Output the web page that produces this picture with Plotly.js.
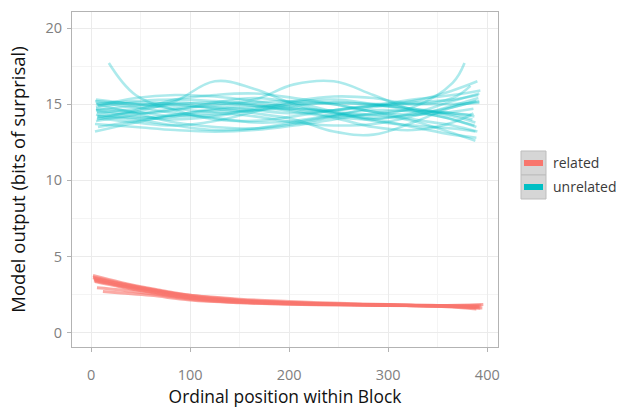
<!DOCTYPE html>
<html>
<head>
<meta charset="utf-8">
<script src="https://cdn.plot.ly/plotly-3.0.1.min.js"></script>
<style>html,body{margin:0;padding:0;background:#fff;}#chart{width:619px;height:408px;}</style>
</head>
<body>
<div id="chart"></div>
<script>
// ---- data ----
const seriesNames = ["related", "unrelated"];
const seriesColors = ["#F8766D", "#00BFC4"];

// unrelated: sample positions shared by all curves
const unrelatedX = [5, 45, 85, 125, 165, 205, 245, 285, 325, 365, 390];
const unrelatedStartX = [5, 4, 6, 5, 18, 7, 5, 6, 5, 6, 4, 7, 5, 6, 5, 4, 6, 5, 7, 5, 6, 5];
const unrelatedEndX   = [388, 390, 386, 391, 384, 389, 387, 377, 392, 388, 385, 393, 389, 386, 390, 392, 387, 383, 391, 388, 389, 392];
const unrelatedY = [
  [15.3, 15.0, 14.7, 14.5, 14.6, 14.9, 15.1, 15.0, 14.7, 14.2, 13.8],
  [13.2, 13.8, 14.3, 14.6, 14.8, 15.0, 15.1, 15.0, 15.2, 15.9, 16.5],
  [14.0, 14.6, 15.3, 15.6, 15.7, 15.4, 15.0, 14.5, 14.3, 14.5, 14.7],
  [15.0, 14.4, 13.8, 13.5, 13.4, 13.7, 14.2, 14.8, 15.1, 15.3, 15.6],
  [17.7, 15.6, 14.6, 14.0, 13.9, 14.2, 14.6, 14.9, 14.7, 14.4, 14.3],
  [14.2, 14.5, 15.2, 16.5, 16.0, 15.0, 14.4, 14.1, 14.3, 14.8, 15.2],
  [14.6, 14.9, 15.1, 15.0, 15.3, 16.3, 16.5, 15.6, 14.6, 14.0, 13.6],
  [14.5, 14.2, 14.0, 14.2, 14.6, 14.7, 14.5, 14.3, 14.8, 16.4, 17.7],
  [14.8, 15.1, 15.0, 14.7, 14.4, 14.0, 13.2, 13.0, 13.8, 14.8, 15.2],
  [14.2, 14.0, 13.6, 13.3, 13.4, 13.8, 14.2, 14.3, 13.9, 13.1, 12.6],
  [13.7, 13.5, 13.3, 13.2, 13.3, 13.6, 14.0, 14.4, 14.6, 14.3, 14.0],
  [14.9, 15.4, 15.6, 15.5, 15.2, 14.8, 14.6, 14.9, 15.3, 15.6, 15.9],
  [15.1, 14.8, 14.4, 14.1, 13.8, 13.9, 14.3, 14.6, 14.5, 14.0, 13.5],
  [14.4, 14.7, 15.0, 15.1, 14.9, 14.5, 14.1, 13.5, 13.3, 13.8, 14.4],
  [13.9, 14.3, 14.7, 14.9, 15.1, 15.2, 15.0, 14.5, 14.0, 13.6, 13.2],
  [15.2, 15.0, 14.9, 14.8, 14.6, 14.4, 14.6, 14.9, 15.0, 15.0, 15.1],
  [14.1, 13.8, 13.6, 13.9, 14.5, 15.1, 15.3, 15.0, 14.6, 14.4, 14.2],
  [14.7, 14.5, 14.2, 14.3, 14.7, 15.2, 15.5, 15.4, 15.0, 15.4, 16.2],
  [13.5, 13.9, 14.2, 14.4, 14.2, 13.8, 13.6, 13.7, 14.2, 14.9, 15.4],
  [14.6, 14.4, 14.6, 15.1, 15.4, 15.1, 14.5, 13.9, 13.6, 13.4, 13.2],
  [15.0, 15.2, 15.3, 15.2, 15.0, 14.7, 14.4, 14.0, 13.5, 13.0, 12.8],
  [14.3, 14.1, 14.3, 14.7, 14.9, 14.6, 14.2, 14.0, 14.4, 15.2, 15.7]
];

// related
const relatedX = [5, 30, 60, 100, 150, 200, 250, 300, 350, 392];
const relatedStartX = [2, 2, 3, 4, 3, 6, 12, 3, 2, 4];
const relatedEndX   = [392, 390, 394, 395, 388, 393, 391, 396, 389, 392];
const relatedY = [
  [3.75, 3.30, 2.90, 2.45, 2.15, 1.98, 1.88, 1.82, 1.76, 1.70],
  [3.60, 3.20, 2.80, 2.35, 2.08, 1.95, 1.87, 1.82, 1.77, 1.72],
  [3.50, 3.10, 2.70, 2.30, 2.05, 1.93, 1.86, 1.81, 1.76, 1.80],
  [3.35, 3.00, 2.65, 2.25, 2.00, 1.90, 1.85, 1.80, 1.75, 1.62],
  [3.40, 3.10, 2.80, 2.45, 2.20, 2.05, 1.93, 1.85, 1.78, 1.65],
  [2.95, 2.80, 2.55, 2.20, 1.98, 1.88, 1.83, 1.79, 1.75, 1.60],
  [2.70, 2.60, 2.45, 2.15, 1.97, 1.87, 1.82, 1.78, 1.74, 1.68],
  [3.55, 3.20, 2.85, 2.40, 2.10, 1.96, 1.88, 1.83, 1.78, 1.85],
  [3.65, 3.25, 2.85, 2.40, 2.12, 1.97, 1.87, 1.80, 1.73, 1.55],
  [3.45, 3.05, 2.70, 2.30, 2.05, 1.92, 1.85, 1.81, 1.77, 1.75]
];

const xTickVals = [0, 100, 200, 300, 400];
const yTickVals = [0, 5, 10, 15, 20];
const xTitle = "Ordinal position within Block";
const yTitle = "Model output (bits of surprisal)";

// ---- build traces ----
const traces = [];
function addCurve(xs, ys, s, e, color, op, w) {
  const x = xs.slice(); x[0] = s; x[x.length - 1] = e;
  traces.push({
    type: "scatter", mode: "lines", x: x, y: ys,
    line: {color: color, width: w, shape: "spline", smoothing: 1.1},
    opacity: op, showlegend: false, hoverinfo: "skip"
  });
}
unrelatedY.forEach((ys, i) => addCurve(unrelatedX, ys, unrelatedStartX[i], unrelatedEndX[i], seriesColors[1], 0.32, 2.6));
relatedY.forEach((ys, i) => addCurve(relatedX, ys, relatedStartX[i], relatedEndX[i], seriesColors[0], 0.62, 3));

const font = "'Open Sans', 'Noto Sans', sans-serif";
const axisCommon = {
  showline: true, mirror: true, linecolor: "#b3b3b3", linewidth: 1,
  ticks: "outside", ticklen: 4, tickcolor: "#b3b3b3", tickwidth: 1,
  showgrid: true, gridcolor: "#ebebeb", gridwidth: 1,
  zeroline: false, tickfont: {family: font, size: 14.5, color: "#808080"},
  automargin: false
};

// manual legend (ggplot-style keys)
const shapes = [];
const annotations = [];
const keyLeft = 521, keyRight = 546, keyTop = 151, keyH = 24;
const W = 619, H = 408, L = 72, R = 121, T = 12, B = 61;
const pw = W - L - R, ph = H - T - B;
const px = v => (v - L) / pw, py = v => (H - B - v) / ph;
seriesNames.forEach((name, i) => {
  const top = keyTop + i * keyH;
  shapes.push({type: "rect", xref: "paper", yref: "paper",
    x0: px(keyLeft), x1: px(keyRight), y0: py(top), y1: py(top + keyH),
    fillcolor: "#d6d6d6", line: {color: "#bdbdbd", width: 1}});
  shapes.push({type: "line", xref: "paper", yref: "paper",
    x0: px(keyLeft + 3), x1: px(keyRight - 3), y0: py(top + keyH / 2), y1: py(top + keyH / 2),
    line: {color: seriesColors[i], width: 6}});
  annotations.push({xref: "paper", yref: "paper", x: px(551), y: py(top + keyH / 2 - 1),
    xanchor: "left", yanchor: "middle", showarrow: false, text: name,
    font: {family: font, size: 14, color: "#3a3a3a"}});
});

const layout = {
  width: W, height: H,
  margin: {l: L, r: R, t: T, b: B, pad: 0},
  paper_bgcolor: "#ffffff", plot_bgcolor: "#ffffff",
  showlegend: false,
  xaxis: Object.assign({}, axisCommon, {
    range: [-19.2, 410.8], tickvals: xTickVals, ticklabelstandoff: 11,
    minor: {dtick: 50, tick0: 0, showgrid: true, gridcolor: "#f4f4f4", gridwidth: 1, ticks: ""},
    title: {text: xTitle, font: {family: font, size: 17.4, color: "#111111"}, standoff: 11}
  }),
  yaxis: Object.assign({}, axisCommon, {
    range: [-0.94, 21.05], tickvals: yTickVals, ticklabelstandoff: 2,
    minor: {dtick: 2.5, tick0: 0, showgrid: true, gridcolor: "#f4f4f4", gridwidth: 1, ticks: ""},
    title: {text: yTitle, font: {family: font, size: 18.5, color: "#111111"}, standoff: 15}
  }),
  shapes: shapes, annotations: annotations
};

Plotly.newPlot("chart", traces, layout, {displayModeBar: false, staticPlot: true});
</script>
</body>
</html>
